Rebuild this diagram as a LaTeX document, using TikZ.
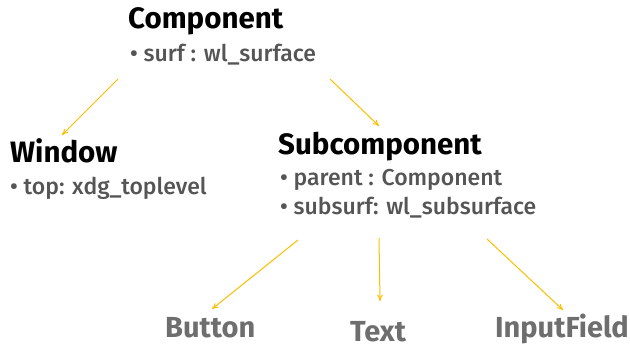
\documentclass[tikz,border=0pt]{standalone}
\usepackage{fontspec}
\setmainfont{Fira Sans}
\newfontfamily\fieldfont{Fira Sans Medium}
\usetikzlibrary{arrows.meta}
\definecolor{arrowgold}{RGB}{255,189,0}
\definecolor{fieldgray}{RGB}{85,85,85}
\definecolor{leafgray}{RGB}{110,110,110}
\tikzset{
    class diagram/.style = {x=1pt, y=-1pt, >={To[length=2.2mm, width=2mm]}},
    heading/.style       = {anchor=base west, inner sep=0pt,
                            font=\fontsize{29.5}{32}\selectfont\bfseries},
    field/.style         = {anchor=base west, inner sep=0pt, text=fieldgray,
                            font=\fontsize{23}{26}\fieldfont},
    leaf/.style          = {heading, text=leafgray,
                            font=\fontsize{29}{32}\selectfont\bfseries},
    link/.style          = {->, arrowgold, line width=1pt}
}

\begin{document}
\begin{tikzpicture}[class diagram]
\useasboundingbox (0,0) rectangle (630,349);

% ================= Component =================
\node[heading] (comp) at (128,28) {Component};
\node[field]   (surf) at (130,61) {• surf : wl\_surface};

% ================= Window =================
\node[heading] (win) at (10,162) {Window};
\node[field]   (top) at (10,194) {• top: xdg\_toplevel};

% ================= Subcomponent =================
\node[heading] (sub)     at (278,154) {Subcomponent};
\node[field]   (parent)  at (280,185) {• parent : Component};
\node[field]   (subsurf) at (280,214) {• subsurf: wl\_subsurface};

% ================= Widgets =================
\node[leaf] (button) at (165,337) {Button};
\node[leaf] (text)   at (350,341) {Text};
\node[leaf] (input)  at (495,337) {InputField};

% ================= Inheritance links =================
\coordinate (compL) at (118,79);
\coordinate (compR) at (330,79);
\coordinate (subL)  at (298,240);
\coordinate (subM)  at (379,238);
\coordinate (subR)  at (487,239);

\draw[link] (compL) -- ([xshift=52pt,yshift=27pt]win.base west);
\draw[link] (compR) -- ([xshift=101pt,yshift=28pt]sub.base west);
\draw[link] (subL)  -- ([xshift=47pt,yshift=28pt]button.base west);
\draw[link] (subM)  -- ([xshift=30pt,yshift=40pt]text.base west);
\draw[link] (subR)  -- ([xshift=68pt,yshift=27pt]input.base west);

\end{tikzpicture}
\end{document}
